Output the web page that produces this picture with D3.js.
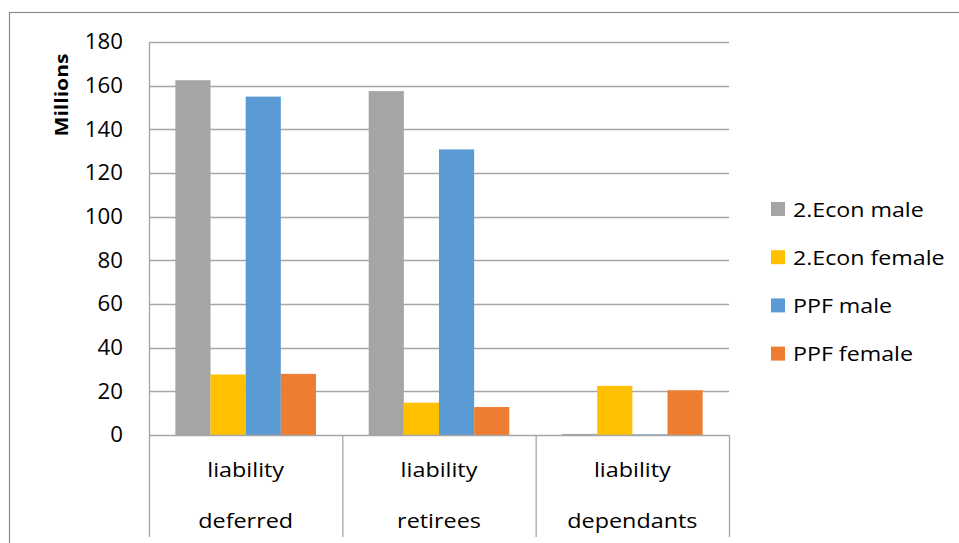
<!DOCTYPE html>
<html>
<head>
<meta charset="utf-8">
<script src="https://cdn.jsdelivr.net/npm/d3@7"></script>
<style>
  html, body { margin: 0; padding: 0; background: #fff; }
  svg { display: block; font-family: "Open Sans", sans-serif; }
</style>
</head>
<body>
<svg id="chart" width="959" height="543"></svg>
<script>
const categories = [["liability", "deferred"], ["liability", "retirees"], ["liability", "dependants"]];
const seriesNames = ["2.Econ male", "2.Econ female", "PPF male", "PPF female"];
const econMale = [162.5, 157.5, 0.5];
const econFemale = [27.7, 14.8, 22.5];
const ppfMale = [155.0, 130.8, 0.3];
const ppfFemale = [28.0, 12.8, 20.5];
const seriesValues = [econMale, econFemale, ppfMale, ppfFemale];
const colors = ["#A5A5A5", "#FFC000", "#5B9BD5", "#ED7D31"];
const yTicks = [0, 20, 40, 60, 80, 100, 120, 140, 160, 180];

const FONT = "'Open Sans', sans-serif";

const svg = d3.select("#chart");
const pLeft = 149, pRight = 729, pTop = 42, pBottom = 435;

// chart border
svg.append("rect").attr("x", 9.5).attr("y", 12.5).attr("width", 1000).attr("height", 600)
  .attr("fill", "none").attr("stroke", "#8a8a8a").attr("stroke-width", 1.2);

const x0 = d3.scaleBand().domain(d3.range(categories.length)).range([pLeft, pRight]).padding(0);
const x1 = d3.scaleBand().domain(d3.range(seriesNames.length)).range([0, x0.bandwidth()])
  .paddingInner(0).paddingOuter(0.75);
const y = d3.scaleLinear().domain([0, 180]).range([pBottom, pTop]);

// gridlines
svg.append("g").selectAll("line").data(yTicks.filter(d => d > 0)).join("line")
  .attr("x1", pLeft).attr("x2", pRight)
  .attr("y1", d => Math.round(y(d)) + 0.5).attr("y2", d => Math.round(y(d)) + 0.5)
  .attr("stroke", "#a6a6a6").attr("stroke-width", 1.3);

// y axis labels
const tickSx = 1.06;
const yAxis = d3.axisLeft(y).tickValues(yTicks).tickSize(0).tickPadding(26);
const gy = svg.append("g").attr("transform", `translate(${pLeft},0)`).call(yAxis);
gy.select(".domain").remove();
gy.selectAll("text").attr("font-size", 21).attr("fill", "#000").attr("font-family", FONT)
  .attr("x", -26 / tickSx).attr("transform", `scale(${tickSx},1)`);

// bars
seriesValues.forEach((vals, si) => {
  svg.append("g").selectAll("rect").data(vals).join("rect")
    .attr("x", (d, i) => x0(i) + x1(si))
    .attr("width", x1.bandwidth())
    .attr("y", d => y(d))
    .attr("height", d => y(0) - y(d))
    .attr("fill", colors[si]);
});

// axis lines
svg.append("line").attr("x1", pLeft + 0.5).attr("x2", pLeft + 0.5).attr("y1", pTop).attr("y2", 537)
  .attr("stroke", "#a6a6a6").attr("stroke-width", 1.3);
svg.append("line").attr("x1", pLeft).attr("x2", pRight).attr("y1", pBottom + 0.5).attr("y2", pBottom + 0.5)
  .attr("stroke", "#a6a6a6").attr("stroke-width", 1.3);
// category dividers
svg.append("g").selectAll("line").data(d3.range(1, categories.length + 1)).join("line")
  .attr("x1", i => (i < categories.length ? x0(i) : pRight) + 0.5)
  .attr("x2", i => (i < categories.length ? x0(i) : pRight) + 0.5)
  .attr("y1", pBottom).attr("y2", 537)
  .attr("stroke", "#a6a6a6").attr("stroke-width", 1.3);

// category labels
const catSx = 1.14;
const cl = svg.append("g").selectAll("g").data(categories).join("g");
cl.append("text").attr("transform", (d, i) => `translate(${x0(i) + x0.bandwidth() / 2},477) scale(${catSx},1)`)
  .attr("text-anchor", "middle").attr("font-size", 20.5).text(d => d[0]);
cl.append("text").attr("transform", (d, i) => `translate(${x0(i) + x0.bandwidth() / 2},528) scale(${catSx},1)`)
  .attr("text-anchor", "middle").attr("font-size", 20.5).text(d => d[1]);

// y title
svg.append("text").attr("transform", "translate(67.5,95) rotate(-90) scale(1.17,1)")
  .attr("text-anchor", "middle").attr("font-size", 18).attr("font-weight", "bold").text("Millions");

// legend
const legSx = 1.16;
const lg = svg.append("g").selectAll("g").data(seriesNames).join("g")
  .attr("transform", (d, i) => `translate(771,${202 + i * 48.2})`);
lg.append("rect").attr("width", 14).attr("height", 14).attr("fill", (d, i) => colors[i]);
lg.append("text").attr("transform", `translate(22,14.5) scale(${legSx},1)`).attr("font-size", 20).text(d => d);
</script>
</body>
</html>
